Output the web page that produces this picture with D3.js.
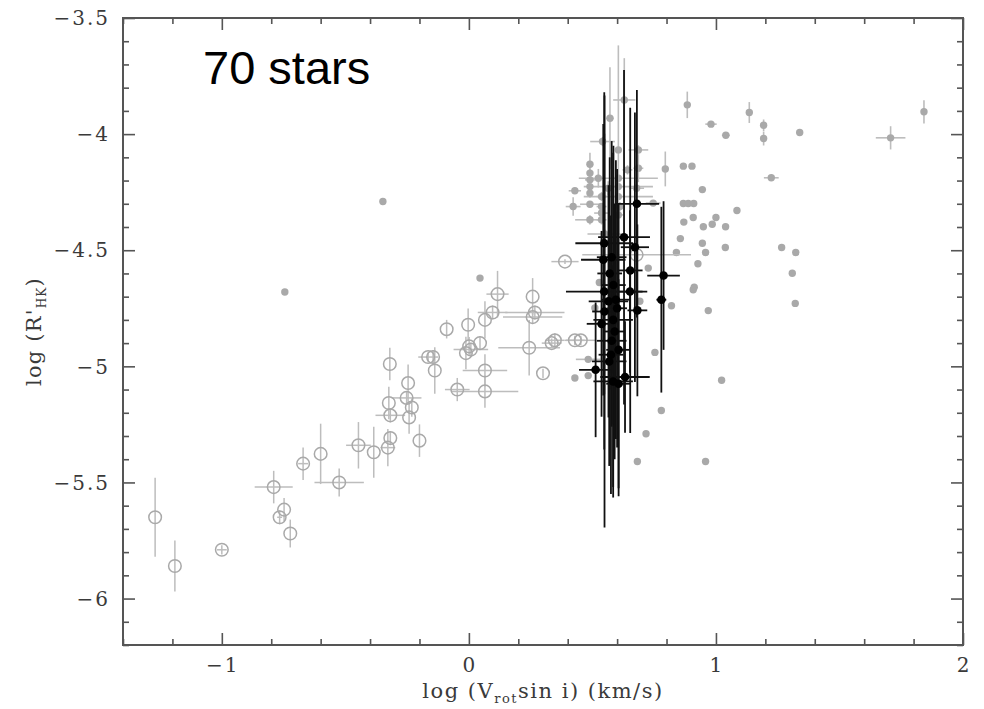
<!DOCTYPE html>
<html>
<head>
<meta charset="utf-8">
<script src="https://cdn.jsdelivr.net/npm/d3@7"></script>
<style>
  html, body { margin: 0; padding: 0; background: #fff; }
  svg { display: block; }
</style>
</head>
<body>
<svg id="chart" width="984" height="709"></svg>
<script>
// ---------------- DATA ----------------
// Each entry: [log Vsini, log R'HK, x error, y error]
const openCircles = [
  [-1.27,-5.65,0,0.17],[-1.19,-5.86,0,0.11],[-1.00,-5.79,0.02,0.02],
  [-0.79,-5.52,0.077,0.07],[-0.766,-5.65,0.01,0.03],[-0.748,-5.617,0,0.05],
  [-0.723,-5.72,0,0.06],[-0.671,-5.419,0.02,0.07],[-0.60,-5.377,0,0.13],
  [-0.525,-5.50,0.1,0.06],[-0.447,-5.34,0.05,0.1],[-0.385,-5.37,0,0.11],
  [-0.32,-4.99,0,0.07],[-0.324,-5.158,0,0.07],[-0.318,-5.211,0.06,0.03],
  [-0.318,-5.309,0,0.03],[-0.328,-5.35,0.03,0.08],[-0.246,-5.072,0,0.08],
  [-0.252,-5.136,0.06,0.03],[-0.231,-5.177,0,0.04],[-0.242,-5.22,0,0.07],
  [-0.20,-5.32,0,0.07],[-0.165,-4.96,0.04,0.02],[-0.145,-4.96,0,0.03],
  [-0.138,-5.018,0,0.1],[-0.09,-4.84,0,0.04],[-0.047,-5.10,0.05,0.05],
  [-0.012,-4.943,0,0.07],[0.001,-4.914,0,0.04],[0.008,-4.928,0.07,0.03],
  [-0.003,-4.821,0,0.07],[0.045,-4.90,0,0.03],[0.065,-4.80,0,0.08],
  [0.065,-5.018,0.09,0.07],[0.065,-5.108,0.135,0.07],[0.096,-4.768,0.06,0.03],
  [0.116,-4.689,0.045,0.1],[0.258,-4.70,0,0.08],[0.267,-4.768,0.12,0.03],
  [0.258,-4.788,0.12,0.03],[0.244,-4.92,0.125,0.12],[0.30,-5.03,0,0.02],
  [0.335,-4.90,0.04,0.02],[0.348,-4.888,0.04,0.03],[0.429,-4.888,0.04,0.02],
  [0.453,-4.888,0.06,0.02],[0.389,-4.549,0.055,0.01],[0.679,-4.52,0.22,0.03]
];

const grayDots = [
  [-0.348,-4.29,0,0],[-0.745,-4.68,0,0],[0.045,-4.62,0,0],
  [0.884,-3.874,0.012,0.057],[0.98,-3.957,0.023,0.01],[1.04,-4.005,0.016,0.005],
  [1.135,-3.907,0.005,0.045],[1.193,-3.962,0,0.025],[1.193,-4.019,0,0.03],
  [1.339,-3.993,0.012,0.012],[1.224,-4.188,0.03,0.005],[1.707,-4.016,0.06,0.05],
  [1.842,-3.904,0.01,0.05],[0.795,-4.15,0,0.075],
  [0.868,-4.138,0,0],[0.903,-4.138,0,0],[0.945,-4.239,0,0],[0.868,-4.299,0,0],
  [0.888,-4.299,0,0],[0.91,-4.299,0,0],[1.085,-4.329,0,0],[0.87,-4.379,0,0],
  [0.908,-4.359,0,0],[0.949,-4.399,0,0],[0.985,-4.388,0,0],[1.0,-4.359,0,0],
  [1.039,-4.399,0,0],[0.856,-4.45,0,0],[0.945,-4.47,0,0],[0.958,-4.51,0,0],
  [1.038,-4.488,0,0],[0.84,-4.51,0,0],[1.266,-4.488,0,0],[1.323,-4.51,0,0],
  [0.927,-4.558,0,0],[1.309,-4.599,0,0],[0.912,-4.659,0,0],[0.908,-4.67,0,0],
  [0.82,-4.739,0,0],[0.969,-4.76,0,0],[1.321,-4.729,0,0],[0.753,-4.94,0,0],
  [1.023,-5.06,0,0],[0.779,-5.19,0,0],[0.717,-5.29,0,0],[0.682,-5.41,0,0],
  [0.958,-5.41,0,0],
  [0.629,-3.853,0.045,0.18],[0.571,-3.932,0.015,0.22],[0.541,-4.032,0.05,0.02],
  [0.605,-4.068,0.01,0.45],[0.686,-4.068,0.04,0.02],[0.49,-4.13,0,0.05],
  [0.49,-4.168,0,0.02],[0.686,-4.147,0.02,0.06],[0.642,-4.154,0.02,0.02],
  [0.49,-4.197,0.02,0.01],[0.524,-4.19,0.01,0.04],[0.605,-4.19,0.16,0.01],
  [0.49,-4.226,0,0.01],[0.429,-4.244,0.025,0.01],[0.564,-4.233,0.02,0.03],
  [0.605,-4.226,0.14,0.02],[0.679,-4.233,0.03,0.01],[0.49,-4.254,0.01,0.02],
  [0.537,-4.269,0.02,0.02],[0.605,-4.269,0.14,0.01],[0.422,-4.312,0.03,0.04],
  [0.49,-4.302,0.04,0.01],[0.537,-4.312,0.02,0.01],[0.611,-4.312,0.02,0.02],
  [0.746,-4.297,0.03,0.01],[0.537,-4.34,0.03,0.02],[0.605,-4.348,0.02,0.02],
  [0.49,-4.369,0.06,0.02],[0.537,-4.369,0.02,0.02],[0.55,-4.43,0.07,0.02],
  [0.726,-4.577,0,0],[0.528,-4.639,0,0],[0.692,-4.72,0,0],[0.51,-4.749,0,0],
  [0.483,-4.97,0.05,0],[0.429,-5.05,0,0],[0.483,-5.04,0,0]
];

const blackDots = [
  [0.68,-4.30,0.09,0.49],[0.628,-4.444,0.105,0.72],[0.548,-4.47,0.117,0.65],
  [0.672,-4.487,0.057,0.58],[0.544,-4.541,0.09,0.585],[0.578,-4.53,0.06,0.5],
  [0.653,-4.587,0.05,0.7],[0.788,-4.609,0.066,0.32],[0.779,-4.713,0.02,0.4],
  [0.548,-4.678,0.155,0.68],[0.652,-4.678,0.07,0.35],[0.595,-4.713,0.06,0.6],
  [0.682,-4.759,0.04,0.37],[0.549,-4.764,0.05,0.93],[0.537,-4.817,0.06,0.4],
  [0.584,-4.80,0.08,0.72],[0.578,-4.89,0.06,0.37],[0.606,-4.929,0.05,0.63],
  [0.568,-4.979,0.07,0.45],[0.513,-5.015,0.067,0.29],[0.632,-5.046,0.1,0.24],
  [0.584,-5.065,0.08,0.5],[0.606,-5.075,0.05,0.45],
  [0.57,-4.60,0.05,0.5],[0.585,-4.65,0.05,0.6],[0.59,-4.85,0.04,0.55],
  [0.575,-4.95,0.05,0.6],[0.60,-4.75,0.04,0.6],[0.565,-4.72,0.08,0.5]
];

const xTickLabels = [-1, 0, 1, 2];
const yTickLabels = [-3.5, -4, -4.5, -5, -5.5, -6];
const annotation = "70 stars";

// ---------------- LAYOUT ----------------
const svg = d3.select("#chart");
const L = 123, R = 963, T = 18, B = 645;
const x = d3.scaleLinear().domain([-1.4, 2]).range([L, R]);
const y = d3.scaleLinear().domain([-6.2, -3.5]).range([B, T]);

const serif = "'DejaVu Serif', 'Liberation Serif', serif";
const axisColor = "#555";
const textColor = "#3a3a3a";
const grayBar = "#bdbdbd";
const grayMark = "#a9a9a9";

const xMinor = d3.range(-1.4, 2.0001, 0.2).map(v => +v.toFixed(2));
const xMajor = xTickLabels;
const yMinor = d3.range(-6.2, -3.4999, 0.1).map(v => +v.toFixed(2));
const yMajor = yTickLabels;
const isMajor = (arr, v) => arr.some(m => Math.abs(m - v) < 1e-6);

function styleAxis(g) {
  g.select(".domain").remove();
  g.selectAll(".tick line").attr("stroke", axisColor).attr("stroke-width", 1.6);
}

svg.append("g").attr("transform", `translate(0,${B})`)
  .call(d3.axisBottom(x).tickValues(xMinor).tickSizeInner(0).tickSizeOuter(0).tickFormat(""))
  .call(g => { styleAxis(g); g.selectAll(".tick line").attr("y2", d => isMajor(xMajor, d) ? -12 : -6); });
svg.append("g").attr("transform", `translate(0,${T})`)
  .call(d3.axisTop(x).tickValues(xMinor).tickSizeInner(0).tickSizeOuter(0).tickFormat(""))
  .call(g => { styleAxis(g); g.selectAll(".tick line").attr("y2", d => isMajor(xMajor, d) ? 12 : 6); });
svg.append("g").attr("transform", `translate(${L},0)`)
  .call(d3.axisLeft(y).tickValues(yMinor).tickSizeInner(0).tickSizeOuter(0).tickFormat(""))
  .call(g => { styleAxis(g); g.selectAll(".tick line").attr("x2", d => isMajor(yMajor, d) ? 12 : 6); });
svg.append("g").attr("transform", `translate(${R},0)`)
  .call(d3.axisRight(y).tickValues(yMinor).tickSizeInner(0).tickSizeOuter(0).tickFormat(""))
  .call(g => { styleAxis(g); g.selectAll(".tick line").attr("x2", d => isMajor(yMajor, d) ? -12 : -6); });

svg.append("rect").attr("x", L).attr("y", T).attr("width", R - L).attr("height", B - T)
  .attr("fill", "none").attr("stroke", axisColor).attr("stroke-width", 2);

// tick labels
const fmt = d => d3.format("")(d);
const tickSpacing = 2;
svg.append("g").selectAll("text").data(xTickLabels).join("text")
  .attr("x", d => x(d) + tickSpacing / 2).attr("y", 672).attr("text-anchor", "middle")
  .attr("font-family", serif).attr("font-size", 20).attr("letter-spacing", tickSpacing)
  .attr("fill", textColor)
  .text(fmt);
svg.append("g").selectAll("text").data(yTickLabels).join("text")
  .attr("x", 108 + tickSpacing).attr("y", d => y(d)).attr("dy", "0.36em").attr("text-anchor", "end")
  .attr("font-family", serif).attr("font-size", 20).attr("letter-spacing", tickSpacing)
  .attr("fill", textColor)
  .text(fmt);

// axis titles
const xt = svg.append("text").attr("x", (L + R) / 2).attr("y", 698).attr("text-anchor", "middle")
  .attr("font-family", serif).attr("font-size", 21).attr("letter-spacing", 1.5)
  .attr("fill", textColor);
xt.append("tspan").text("log (V");
xt.append("tspan").attr("font-size", 13).attr("dy", 5).text("rot");
xt.append("tspan").attr("dy", -5).text("sin i) (km/s)");

const yt = svg.append("text").attr("transform", `translate(41,${(T + B) / 2}) rotate(-90)`)
  .attr("text-anchor", "middle")
  .attr("font-family", serif).attr("font-size", 21).attr("letter-spacing", 1.2)
  .attr("fill", textColor);
yt.append("tspan").text("log (R'");
yt.append("tspan").attr("font-size", 12).attr("dy", 5).text("HK");
yt.append("tspan").attr("dy", -5).text(")");

// ---------------- MARKS ----------------
const plot = svg.append("g");

function errorBars(g, data, color, width) {
  g.selectAll(null).data(data.filter(d => d[2] > 0)).join("line")
    .attr("x1", d => x(d[0] - d[2])).attr("x2", d => x(d[0] + d[2]))
    .attr("y1", d => y(d[1])).attr("y2", d => y(d[1]))
    .attr("stroke", color).attr("stroke-width", width);
  g.selectAll(null).data(data.filter(d => d[3] > 0)).join("line")
    .attr("x1", d => x(d[0])).attr("x2", d => x(d[0]))
    .attr("y1", d => y(d[1] - d[3])).attr("y2", d => y(d[1] + d[3]))
    .attr("stroke", color).attr("stroke-width", width);
}

const gGray = plot.append("g");
errorBars(gGray, grayDots, grayBar, 1.6);
gGray.selectAll("circle").data(grayDots).join("circle")
  .attr("cx", d => x(d[0])).attr("cy", d => y(d[1])).attr("r", 3.7)
  .attr("fill", grayMark);

const gOpen = plot.append("g");
errorBars(gOpen, openCircles, grayBar, 1.5);
gOpen.selectAll("circle").data(openCircles).join("circle")
  .attr("cx", d => x(d[0])).attr("cy", d => y(d[1])).attr("r", 6.3)
  .attr("fill", "none").attr("stroke", grayMark).attr("stroke-width", 1.5);

const gBlack = plot.append("g");
errorBars(gBlack, blackDots, "#111", 1.8);
gBlack.selectAll("circle").data(blackDots).join("circle")
  .attr("cx", d => x(d[0])).attr("cy", d => y(d[1])).attr("r", 4.3)
  .attr("fill", "#000");

svg.append("text").attr("x", 203).attr("y", 84)
  .attr("font-family", "'Liberation Sans', Arial, sans-serif").attr("font-size", 47)
  .attr("fill", "#000").text(annotation);
</script>
</body>
</html>
